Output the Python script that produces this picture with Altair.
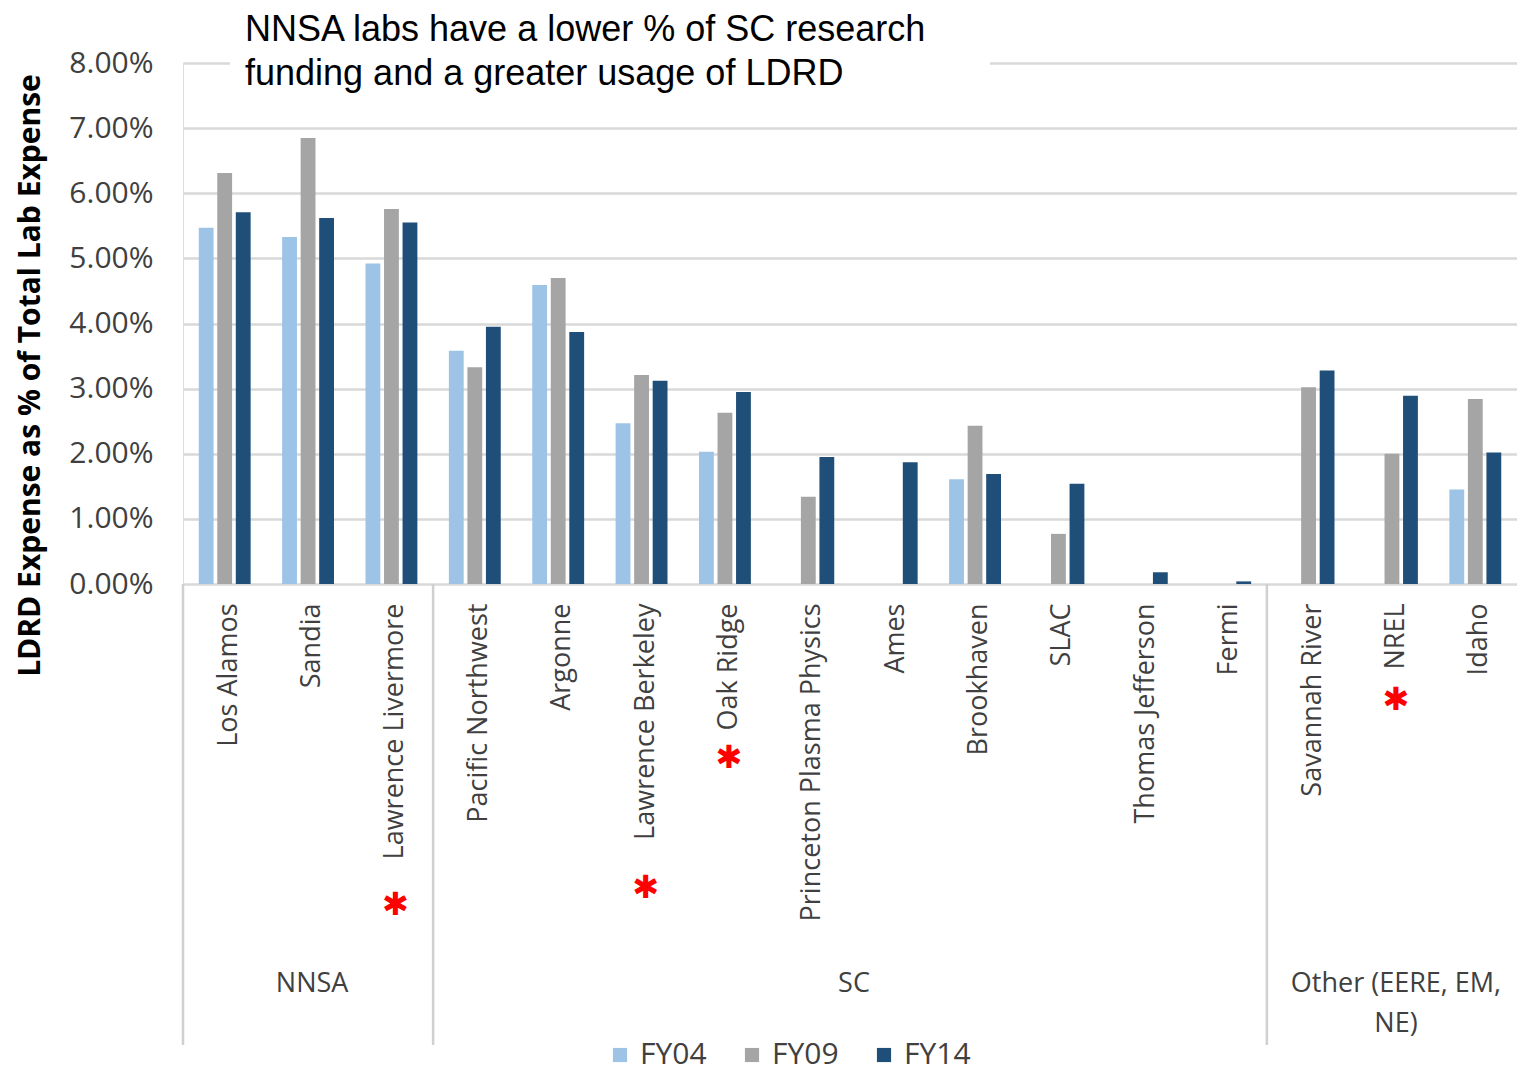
import altair as alt
import pandas as pd

# ---------------- data ----------------
labs = ["Los Alamos", "Sandia", "Lawrence Livermore", "Pacific Northwest", "Argonne",
        "Lawrence Berkeley", "Oak Ridge", "Princeton Plasma Physics", "Ames", "Brookhaven",
        "SLAC", "Thomas Jefferson", "Fermi", "Savannah River", "NREL", "Idaho"]
series = ["FY04", "FY09", "FY14"]
fy04 = [5.47, 5.33, 4.92, 3.58, 4.59, 2.47, 2.03, None, None, 1.61, None, None, None, None, None, 1.45]
fy09 = [6.31, 6.85, 5.76, 3.33, 4.70, 3.21, 2.63, 1.34, None, 2.43, 0.77, None, None, 3.02, 2.00, 2.84]
fy14 = [5.71, 5.62, 5.55, 3.95, 3.87, 3.12, 2.95, 1.95, 1.87, 1.69, 1.54, 0.18, 0.04, 3.28, 2.89, 2.02]
y_ticks = [0, 1, 2, 3, 4, 5, 6, 7, 8]

groups_mid = ["NNSA", "Other (EERE, EM,\nNE)"]
groups_mid_anchor = ["Sandia", "NREL"]
groups_edge = ["SC"]
groups_edge_anchor = ["Ames"]
separator_labs = ["Los Alamos", "Pacific Northwest", "Savannah River"]
star_labs = ["Lawrence Livermore", "Lawrence Berkeley", "Oak Ridge", "NREL"]
title_lines = ["NNSA labs have a lower % of SC research", "funding and a greater usage of LDRD"]
y_title = "LDRD Expense as % of Total Lab Expense"

# ---------------- styling ----------------
colors = ["#9DC3E6", "#A5A5A5", "#1F4E79"]
star_px = {"Lawrence Livermore": 842, "Lawrence Berkeley": 825, "Oak Ridge": 695, "NREL": 637}
TXT = "#404040"
W, H = 1334, 521

rows = []
for i, lab in enumerate(labs):
    for s, vals in zip(series, [fy04, fy09, fy14]):
        if vals[i] is not None:
            rows.append({"lab": lab, "series": s, "value": vals[i]})
bars_df = pd.DataFrame(rows)

xscale = alt.Scale(domain=labs, paddingInner=0, paddingOuter=0)
xaxis = alt.Axis(labelAngle=270, labelFontSize=27, labelFont="Open Sans",
                 labelColor=TXT, labelPadding=19, labelOffset=4, ticks=False, domain=False,
                 grid=False, labelLimit=500, title=None)

bars = alt.Chart(bars_df).mark_bar().encode(
    x=alt.X("lab:N", scale=xscale, title=None, axis=xaxis),
    xOffset=alt.XOffset("series:N", scale=alt.Scale(domain=series, paddingInner=0.2, paddingOuter=0.85)),
    y=alt.Y("value:Q", scale=alt.Scale(domain=[0, 8], nice=False),
            axis=alt.Axis(values=y_ticks, labelExpr="format(datum.value,'.2f')+'%'",
                          labelFontSize=30, labelFont="Open Sans", labelColor=TXT,
                          labelPadding=30, ticks=False, domain=False, grid=True,
                          gridColor="#d9d9d9", gridWidth=2.5,
                          title=y_title, titleFont="Open Sans", titleFontSize=30,
                          titleFontWeight="bold", titleColor="#000000", titleAngle=270,
                          titleX=-153, titleY=312, titleAlign="center", titleBaseline="middle")),
    color=alt.Color("series:N", scale=alt.Scale(domain=series, range=colors),
                    legend=alt.Legend(orient="none", legendX=422, legendY=977,
                                      direction="horizontal", title=None, symbolType="square",
                                      symbolSize=200, symbolStrokeWidth=0, labelFontSize=30,
                                      labelFont="Open Sans", labelColor=TXT,
                                      columnPadding=30, labelOffset=5)),
)

seps = alt.Chart(pd.DataFrame({"lab": separator_labs})).mark_rule(
    color="#d0d0d0", strokeWidth=2.5).encode(
    x=alt.X("lab:N", scale=xscale, bandPosition=0, title=None, axis=xaxis),
    y=alt.value(H), y2=alt.value(982))

grp_mid = alt.Chart(pd.DataFrame({"lab": groups_mid_anchor, "g": groups_mid})).mark_text(
    font="Open Sans", fontSize=27, color=TXT, baseline="alphabetic", align="center",
    lineBreak="\n", lineHeight=40, dx=4).encode(
    x=alt.X("lab:N", scale=xscale, bandPosition=0.5, title=None, axis=xaxis),
    y=alt.value(929), text="g:N")

grp_edge = alt.Chart(pd.DataFrame({"lab": groups_edge_anchor, "g": groups_edge})).mark_text(
    font="Open Sans", fontSize=27, color=TXT, baseline="alphabetic", align="center", dx=4).encode(
    x=alt.X("lab:N", scale=xscale, bandPosition=0, title=None, axis=xaxis),
    y=alt.value(929), text="g:N")

star_df = pd.DataFrame({"lab": star_labs})
star_df["py"] = [star_px[l] for l in star_labs]
stars = alt.Chart(star_df).mark_text(
    text="✱", font="DejaVu Sans", fontSize=32, color="#FF0000", baseline="middle",
    align="center", dx=4).encode(
    x=alt.X("lab:N", scale=xscale, bandPosition=0.5, title=None, axis=xaxis),
    y=alt.Y("py:Q", scale=None, axis=None))

box = alt.Chart(pd.DataFrame({"a": [0]})).mark_rect(color="white").encode(
    x=alt.value(47), x2=alt.value(807), y=alt.value(-48), y2=alt.value(28))

title = alt.Chart(pd.DataFrame({"a": [0]})).mark_text(
    font="Liberation Sans", fontSize=36, color="#000000", align="left", baseline="alphabetic",
    lineHeight=44).encode(x=alt.value(62), y=alt.value(-22), text=alt.value(title_lines))

chart = alt.layer(bars, seps, grp_mid, grp_edge, stars, box, title).properties(
    width=W, height=H,
    autosize=alt.AutoSizeParams(type="none"),
    padding={"left": 175, "top": 55, "right": 0, "bottom": 490},
).configure_view(stroke=None).configure(background="white")

chart.save("out.html", embed_options={"renderer": "svg", "actions": False})
